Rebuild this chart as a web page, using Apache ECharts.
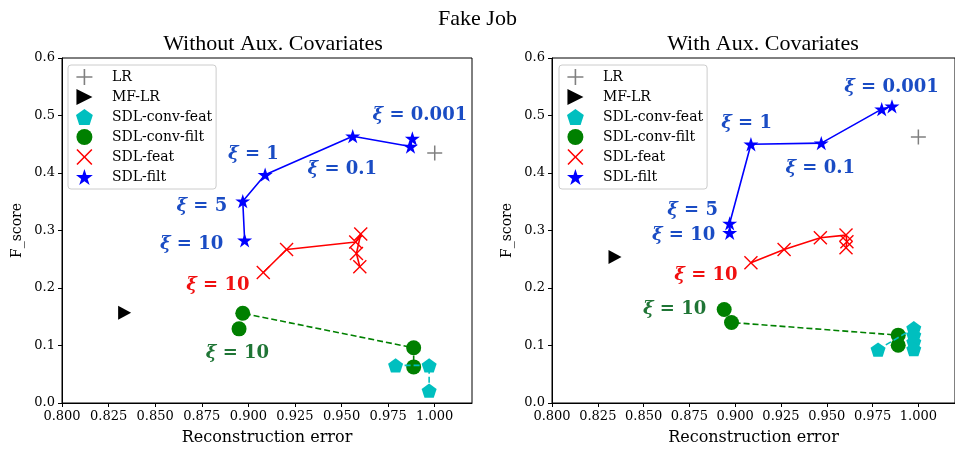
<!DOCTYPE html>
<html><head><meta charset="utf-8">
<script src="https://cdn.jsdelivr.net/npm/echarts@6/dist/echarts.min.js"></script>
<style>html,body{margin:0;padding:0;background:#fff}#c{width:955px;height:451px}</style>
</head><body><div id="c"></div>
<script>
// ---- data ----
const xTicks = [0.8, 0.825, 0.85, 0.875, 0.9, 0.925, 0.95, 0.975, 1.0];
const yTicks = [0, 0.1, 0.2, 0.3, 0.4, 0.5, 0.6];
const seriesNames = ['LR', 'MF-LR', 'SDL-conv-feat', 'SDL-conv-filt', 'SDL-feat', 'SDL-filt'];

// Without Aux. Covariates
const leftLR = [[1.0, 0.435]];
const leftMFLR = [[0.8336, 0.157]];
const leftConvFeat = [[0.979, 0.0655], [0.997, 0.0655], [0.997, 0.0214]];
const leftConvFilt = [[0.895, 0.129], [0.897, 0.156], [0.9887, 0.096], [0.9887, 0.0628]];
const leftFeat = [[0.908, 0.227], [0.9205, 0.267], [0.9576, 0.280], [0.9603, 0.294], [0.958, 0.260], [0.9598, 0.237]];
const leftFilt = [[0.898, 0.283], [0.897, 0.351], [0.909, 0.397], [0.956, 0.464], [0.987, 0.446], [0.988, 0.460]];
const leftFiltNotes = [[0.9923, 0.500, '0.001'], [0.9030, 0.431, '1'], [0.9507, 0.4047, '0.1'], [0.8753, 0.341, '5'], [0.8698, 0.2753, '10']];
const leftFeatNotes = [[0.8839, 0.2034, '10']];
const leftConvNotes = [[0.8944, 0.0857, '10']];

// With Aux. Covariates
const rightLR = [[1.0, 0.4624]];
const rightMFLR = [[0.8344, 0.254]];
const rightConvFeat = [[0.978, 0.093], [0.9975, 0.130], [0.9975, 0.118], [0.9975, 0.106], [0.9975, 0.0935]];
const rightConvFilt = [[0.894, 0.1626], [0.898, 0.140], [0.989, 0.118], [0.989, 0.1005]];
const rightFeat = [[0.9086, 0.244], [0.9267, 0.267], [0.9465, 0.2875], [0.9605, 0.292], [0.961, 0.2805], [0.9605, 0.270]];
const rightFilt = [[0.897, 0.296], [0.897, 0.3125], [0.9086, 0.450], [0.947, 0.452], [0.980, 0.511], [0.9856, 0.516]];
const rightFiltNotes = [[0.9856, 0.5488, '0.001'], [0.9065, 0.4855, '1'], [0.9467, 0.4071, '0.1'], [0.877, 0.3345, '5'], [0.8721, 0.2904, '10']];
const rightFeatNotes = [[0.8843, 0.2207, '10']];
const rightConvNotes = [[0.8672, 0.1627, '10']];

// ---- symbols ----
const SYM = {
  plus: 'path://M-1,-10 L1,-10 L1,-1 L10,-1 L10,1 L1,1 L1,10 L-1,10 L-1,1 L-10,1 L-10,-1 L-1,-1 Z',
  tri: 'path://M0,0 L10,5 L0,10 Z',
  pent: 'path://M0,-10 L9.511,-3.09 L5.878,8.09 L-5.878,8.09 L-9.511,-3.09 Z',
  x: 'path://M-10,-8.6 L-8.6,-10 L0,-1.4 L8.6,-10 L10,-8.6 L1.4,0 L10,8.6 L8.6,10 L0,1.4 L-8.6,10 L-10,8.6 L-1.4,0 Z',
  star: 'path://M0,-10 L2.245,-3.09 L9.511,-3.09 L3.633,1.18 L5.878,8.09 L0,3.82 L-5.878,8.09 L-3.633,1.18 L-9.511,-3.09 L-2.245,-3.09 Z'
};
const SERIF = 'DejaVu Serif';
const TIMES = 'Liberation Serif';

function axesFor(idx) {
  return {
    x: {
      type: 'value', gridIndex: idx, min: 0.8, max: 1.02,
      name: 'Reconstruction error', nameLocation: 'middle', nameGap: 27,
      nameTextStyle: {fontFamily: SERIF, fontSize: 16, color: '#000'},
      axisLine: {show: true, lineStyle: {color: '#000', width: 1}},
      axisTick: {show: true, length: 4, customValues: xTicks, lineStyle: {color: '#000'}},
      axisLabel: {customValues: xTicks, fontFamily: SERIF, fontSize: 13, color: '#000', margin: 7,
        formatter: v => v.toFixed(3)},
      splitLine: {show: false}
    },
    y: {
      type: 'value', gridIndex: idx, min: 0, max: 0.6,
      name: 'F_score', nameLocation: 'middle', nameGap: 38, nameRotate: 90,
      nameTextStyle: {fontFamily: SERIF, fontSize: 14, color: '#000'},
      axisLine: {show: true, lineStyle: {color: '#000', width: 1}},
      axisTick: {show: true, length: 4, customValues: yTicks, lineStyle: {color: '#000'}},
      axisLabel: {customValues: yTicks, fontFamily: SERIF, fontSize: 13, color: '#000', margin: 7,
        formatter: v => v.toFixed(1)},
      splitLine: {show: false}
    }
  };
}

function panelSeries(idx, d) {
  const base = {xAxisIndex: idx, yAxisIndex: idx, animation: false};
  const noteSeries = (data, color) => Object.assign({}, base, {
    type: 'scatter', data: data, symbolSize: 1, silent: true, z: 10,
    itemStyle: {color: 'rgba(0,0,0,0)', opacity: 1},
    label: {
      show: true, position: [0, 0], align: 'center', verticalAlign: 'middle',
      textBorderWidth: 0, opacity: 1,
      formatter: p => '{g|ξ}{t| = ' + p.value[2] + '}',
      rich: {
        g: {fontFamily: SERIF, fontStyle: 'italic', fontWeight: 'bold', fontSize: 18, color: color},
        t: {fontFamily: SERIF, fontWeight: 'bold', fontSize: 18, color: color}
      }
    }
  });
  return [
    Object.assign({}, base, {name: 'LR', type: 'scatter', data: d.lr, symbol: SYM.plus, symbolSize: 15,
      symbolKeepAspect: true, itemStyle: {color: '#808080', opacity: 1}}),
    Object.assign({}, base, {name: 'MF-LR', type: 'scatter', data: d.mf, symbol: SYM.tri, symbolSize: [13, 14],
      itemStyle: {color: '#000', opacity: 1}}),
    Object.assign({}, base, {name: 'SDL-conv-filt', type: 'line', data: d.cfilt, symbol: 'circle', symbolSize: 15,
      showAllSymbol: true, z: 3, lineStyle: {color: '#008000', width: 1.6, type: [6, 3]}, itemStyle: {color: '#008000'}}),
    Object.assign({}, base, {name: 'SDL-conv-feat', type: 'line', data: d.cfeat, symbol: SYM.pent, symbolSize: 15,
      symbolKeepAspect: true, showAllSymbol: true, z: 4, lineStyle: {color: '#00bfbf', width: 1.6, type: [6, 3]}, itemStyle: {color: '#00bfbf'}}),
    Object.assign({}, base, {name: 'SDL-feat', type: 'line', data: d.feat, symbol: SYM.x, symbolSize: 14,
      symbolKeepAspect: true, showAllSymbol: true, z: 5, lineStyle: {color: '#ff0000', width: 1.6}, itemStyle: {color: '#ff0000'}}),
    Object.assign({}, base, {name: 'SDL-filt', type: 'line', data: d.filt, symbol: SYM.star, symbolSize: 15,
      symbolKeepAspect: true, showAllSymbol: true, z: 6, lineStyle: {color: '#0000ff', width: 1.6}, itemStyle: {color: '#0000ff'}}),
    noteSeries(d.filtNotes, '#1a4cc4'),
    noteSeries(d.featNotes, '#f00f0f'),
    noteSeries(d.convNotes, '#1f7535')
  ];
}

function legendFor(left, top) {
  const icons = [SYM.plus, SYM.tri, SYM.pent, 'circle', SYM.x, SYM.star];
  return {
    orient: 'vertical', left: left, top: top,
    itemWidth: 23, itemHeight: 16, itemGap: 4,
    padding: [4, 4, 4, 8],
    backgroundColor: 'rgba(255,255,255,0.85)', borderColor: '#cccccc', borderWidth: 1, borderRadius: 3,
    selectedMode: false,
    textStyle: {fontFamily: SERIF, fontSize: 14, color: '#000', padding: [0, 0, 0, 11]},
    data: seriesNames.map((n, i) => ({name: n, icon: icons[i], itemStyle: {opacity: 1}}))
  };
}

const A0 = axesFor(0), A1 = axesFor(1);
const chart = echarts.init(document.getElementById('c'), null, {renderer: 'canvas'});
chart.setOption({
  animation: false,
  backgroundColor: '#fff',
  title: [
    {text: 'Fake Job', left: 'center', top: 3, textStyle: {fontFamily: TIMES, fontSize: 22, fontWeight: 'normal', color: '#000'}},
    {text: 'Without Aux. Covariates', left: 268, top: 28, textAlign: 'center', textStyle: {fontFamily: TIMES, fontSize: 22, fontWeight: 'normal', color: '#000'}},
    {text: 'With Aux. Covariates', left: 758, top: 28, textAlign: 'center', textStyle: {fontFamily: TIMES, fontSize: 22, fontWeight: 'normal', color: '#000'}}
  ],
  legend: [legendFor(68, 65), legendFor(559, 65)],
  grid: [
    {left: 62, top: 58, width: 410, height: 348, show: true, borderColor: '#000', borderWidth: 1, containLabel: false},
    {left: 552, top: 58, width: 407, height: 345, show: true, borderColor: '#000', borderWidth: 1, containLabel: false}
  ],
  xAxis: [A0.x, A1.x],
  yAxis: [A0.y, A1.y],
  series: [].concat(
    panelSeries(0, {lr: leftLR, mf: leftMFLR, cfeat: leftConvFeat, cfilt: leftConvFilt, feat: leftFeat, filt: leftFilt,
      filtNotes: leftFiltNotes, featNotes: leftFeatNotes, convNotes: leftConvNotes}),
    panelSeries(1, {lr: rightLR, mf: rightMFLR, cfeat: rightConvFeat, cfilt: rightConvFilt, feat: rightFeat, filt: rightFilt,
      filtNotes: rightFiltNotes, featNotes: rightFeatNotes, convNotes: rightConvNotes})
  )
});
</script></body></html>
